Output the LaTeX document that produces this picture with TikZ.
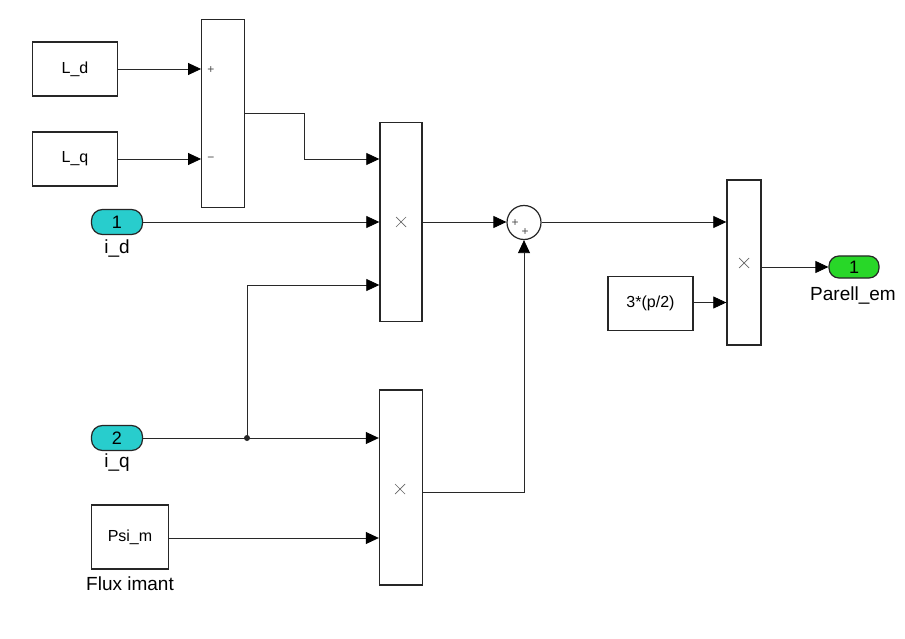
\documentclass[tikz,border=0pt]{standalone}
\usepackage{fontspec}
\setmainfont{Liberation Sans}
\usetikzlibrary{arrows.meta,calc}
\definecolor{portcyan}{RGB}{40,205,205}
\definecolor{portgreen}{RGB}{40,215,40}
\definecolor{wire}{RGB}{40,40,40}
\begin{document}
\begin{tikzpicture}[x=1pt,y=-1pt,
  blk/.style={draw=black!85,line width=1.4pt,fill=white,inner sep=0pt,font=\fontsize{16}{18}\selectfont},
  port/.style={draw=black!85,line width=1.2pt,rounded corners=11pt,minimum width=51pt,minimum height=25pt,inner sep=0pt,font=\fontsize{18}{20}\selectfont},
  lbl/.style={font=\fontsize{19}{21}\selectfont,inner sep=0pt},
  sgn/.style={font=\fontsize{12}{13}\selectfont,text=black!70,inner sep=0pt},
  wirel/.style={draw=wire,line width=0.8pt},
  arr/.style={wirel,-{Triangle[length=13pt,width=12pt,fill=black,color=black]}},
  xmark/.style={draw=black!60,line width=0.7pt}
]
\useasboundingbox[fill=white] (0,0) rectangle (905,639);

% blocks
\node[blk,minimum width=85pt,minimum height=54pt] (Ld) at (75,69) {L\_d};
\node[blk,minimum width=85pt,minimum height=54pt] (Lq) at (75,159) {L\_q};
\node[blk,minimum width=42.5pt,minimum height=188pt] (sub) at (223,113.5) {};
\node[blk,minimum width=42pt,minimum height=199pt] (prod1) at (401,222) {};
\node[blk,minimum width=43pt,minimum height=195pt] (prod2) at (401,487.5) {};
\node[blk,minimum width=34pt,minimum height=165pt] (prod3) at (744,262.5) {};
\node[blk,minimum width=85pt,minimum height=54pt] (gain) at (650.5,303.5) {3*(p/2)};
\node[blk,minimum width=77pt,minimum height=64pt] (psi) at (130,537) {Psi\_m};
\node[draw=black!85,line width=1.2pt,fill=white,circle,minimum size=34pt,inner sep=0pt] (sum) at (524,222.5) {};

% ports
\node[port,fill=portcyan] (id) at (117,222) {1};
\node[port,fill=portcyan] (iq) at (117,438) {2};
\node[port,fill=portgreen,minimum width=50pt,minimum height=22pt,rounded corners=10pt] (out) at (854,267) {1};

% labels
\node[lbl] (idl) at (117,249) {i\_d};
\node[lbl] (iql) at (117,463) {i\_q};
\node[lbl] (psil) at (130,584) {Flux imant};
\node[lbl] (outl) at (853,296) {Parell\_em};

% signs
\node[sgn] (s1) at (211,70) {+};
\node[sgn] (s2) at (211,159) {\textminus};
\node[sgn] (s3) at (515,223) {+};
\node[sgn] (s4) at (525,232) {+};

% multiplication marks
\foreach \n/\cx/\cy in {m1/401/222, m2/400/489, m3/744/263}{
  \draw[xmark] (\cx-5,\cy-5) -- (\cx+5,\cy+5);
  \draw[xmark] (\cx-5,\cy+5) -- (\cx+5,\cy-5);
}

% wires
\draw[arr] (Ld.east) -- (Ld.east -| sub.west);
\draw[arr] (Lq.east) -- (Lq.east -| sub.west);
\draw[arr] (sub.east) -- (304,113.5) |- (prod1.west |- 0,159);
\draw[arr] (id.east) -- (id.east -| prod1.west);
\coordinate (bp) at (247,438);
\draw[arr] (iq.east) -- (iq.east -| prod2.west);
\draw[arr] (bp) |- (prod1.west |- 0,285);
\fill[wire] (bp) circle (3pt);
\draw[arr] (psi.east |- 0,538) -- (prod2.west |- 0,538);
\draw[arr] (prod1.east) -- (sum.west |- prod1.east);
\draw[arr] ([yshift=-5pt]prod2.east) -| (sum.south);
\draw[arr] (sum.east |- 0,222) -- (prod3.west |- 0,222);
\draw[arr] (gain.east |- 0,302.5) -- (prod3.west |- 0,302.5);
\draw[arr] (prod3.east |- 0,267) -- (out.west);
\end{tikzpicture}
\end{document}
